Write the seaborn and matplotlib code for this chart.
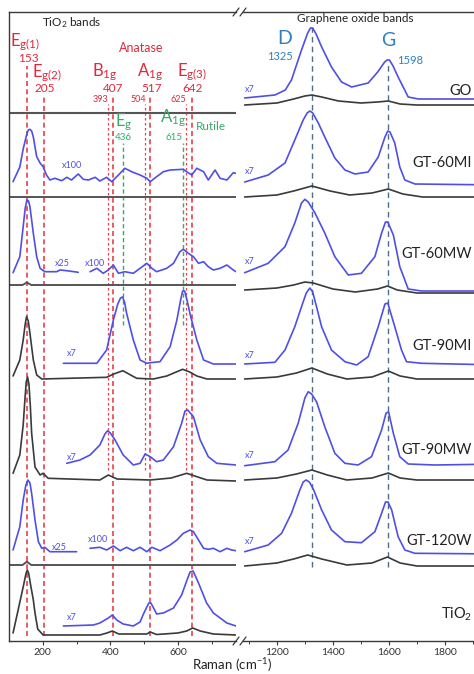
import matplotlib
matplotlib.use("Agg")
import matplotlib.pyplot as plt
from matplotlib.lines import Line2D
import seaborn as sns
import pandas as pd

sns.set_theme(style="ticks")
plt.rcParams["font.family"] = ["Lato", "DejaVu Sans"]
plt.rcParams["mathtext.fontset"] = "custom"
plt.rcParams["mathtext.rm"] = "Lato"
plt.rcParams["mathtext.it"] = "Lato:italic"
plt.rcParams["mathtext.bf"] = "Lato:bold"
plt.rcParams["mathtext.default"] = "regular"

# ---------------- data ----------------
samples = ["GO", "GT-60MI", "GT-60MW", "GT-90MI", "GT-90MW", "GT-120W", "TiO$_2$"]
anatase_bands = [153, 205, 407, 517, 642]
anatase_labels = ["E$_{g(1)}$", "E$_{g(2)}$", "B$_{1g}$", "A$_{1g}$", "E$_{g(3)}$"]
shifted_bands = [393, 504, 625]
rutile_bands = [436, 615]
rutile_labels = ["E$_g$", "A$_{1g}$"]
go_bands = [1325, 1598]
go_labels = ["D", "G"]
left_ticks = [200, 400, 600]
right_ticks = [1200, 1400, 1600, 1800]

# TiO2 window (cm-1, intensity a.u.)
go_t_black_x = [100, 772]
go_t_black_y = [0, 0]

m60i_t_black_x = [100, 772]
m60i_t_black_y = [0, 0]
m60i_t_blue_x = [112, 132, 142, 152, 157, 162, 167, 172, 177, 182, 192, 201, 211, 221, 236, 256, 271, 285, 305, 320,
                 335, 355, 369, 389, 404, 424, 443, 463, 488, 508, 518, 537, 557, 577, 616, 626, 641, 656, 676, 690,
                 710, 725, 745, 764, 772]
m60i_t_blue_y = [15.3, 30, 48, 62, 67, 67.7, 66, 60, 50, 40.3, 34, 30.3, 22, 17, 18.7, 16.3, 19.7, 17, 23, 17.7,
                 17, 19.7, 16, 19.7, 15.3, 22, 28.7, 25.3, 22, 18.7, 15.3, 20.3, 25.3, 27, 27.7, 25.3, 22, 28.7, 25.3, 17,
                 27, 18.7, 17, 24.3, 23.7]

m60w_t_black_x = [100, 140, 153, 166, 772]
m60w_t_black_y = [0, 0, 2.5, 0, 0]
m60w_t_blue25_x = [112, 132, 142, 148, 153, 158, 162, 172, 182, 192, 206, 241, 251, 271, 305]
m60w_t_blue25_y = [12.3, 28.3, 58.3, 77, 85, 84, 78.3, 51.7, 28.3, 16.7, 13.3, 13.3, 15, 14.3, 12.7]
m60w_t_blue100_x = [340, 360, 379, 394, 409, 424, 443, 468, 488, 508, 523, 537, 567, 587, 606, 616, 631, 646, 661, 676,
                    690, 705, 725, 745, 764, 772]
m60w_t_blue100_y = [13.3, 16.7, 11.7, 15, 20, 11.7, 13.3, 11.7, 16.7, 21.7, 16.7, 13.3, 16.7, 21.7, 33.3, 35.7, 31.7,
                    28.3, 21.7, 23.3, 18.3, 15, 16.7, 20, 15, 13.3]

m90i_t_black_x = [112, 132, 142, 148, 152, 157, 162, 172, 182, 197, 389, 410, 437, 460, 478, 527, 567, 595, 614, 635,
                  656, 686, 772]
m90i_t_black_y = [3, 19, 39, 55, 62.3, 58, 45.7, 19, 4, 0, 1.7, 5, 8.3, 4, 0.7, 0, 3, 7, 9.7, 7, 3, 0, 0]
m90i_t_blue_x = [261, 360, 389, 409, 422, 430, 436, 442, 448, 468, 488, 508, 518, 547, 577, 597, 608, 614, 620, 627,
                 636, 656, 676, 705, 772]
m90i_t_blue_y = [15.7, 15.7, 29, 59, 75, 81, 82, 77, 66, 39, 19, 15.7, 16.3, 17.3, 32.3, 59, 79, 88, 88, 79, 65, 39, 19,
                 15, 15]

m90w_t_black_x = [112, 132, 142, 147, 151, 155, 159, 163, 167, 177, 192, 201, 216, 369, 394, 420, 518, 580, 626, 686,
                  772]
m90w_t_black_y = [6.7, 25, 55, 80, 98, 103, 96, 75, 47, 13, 5, 6.7, 1.7, 0, 5, 1, 0, 2, 6.7, 0, -1]
m90w_t_blue_x = [271, 310, 340, 369, 384, 392, 400, 414, 438, 468, 488, 503, 518, 537, 557, 587, 611, 621, 629, 646,
                 666, 690, 715, 772]
m90w_t_blue_y = [16.7, 20, 25, 35, 46, 49.3, 47, 40, 25, 15, 16.7, 26, 23.3, 18.3, 20, 33.3, 56.7, 69, 70, 63.3, 40,
                 23.3, 16.7, 15]

m120_t_black_x = [100, 140, 153, 166, 772]
m120_t_black_y = [0, 0, 3.3, 0, 0]
m120_t_blue25_x = [112, 132, 142, 150, 156, 162, 167, 177, 187, 197, 206, 221, 251, 300]
m120_t_blue25_y = [15, 38.3, 65, 80, 85, 82, 71.7, 45, 23.3, 16.7, 17.7, 13.3, 13.3, 13.3]
m120_t_blue100_x = [340, 369, 389, 409, 429, 448, 468, 488, 508, 523, 547, 577, 597, 616, 636, 646, 661, 676, 690, 705,
                    725, 745, 759, 772]
m120_t_blue100_y = [16.7, 17.7, 15, 19, 14.3, 17.7, 14.3, 17.7, 13.3, 17.7, 14.3, 20, 25, 31.7, 35, 33.3, 25, 16.7,
                    15.7, 16.7, 13.3, 16.7, 15, 14.3]

tio2_t_black_x = [112, 127, 142, 150, 154, 158, 163, 172, 177, 185, 201, 369, 390, 406, 425, 508, 518, 537, 600, 626,
                  644, 666, 705, 772]
tio2_t_black_y = [2, 25, 48, 61, 65, 62, 52, 35, 22, 6, 0, 0, 2, 4, 1, 1, 3, 0.5, 2, 4, 7, 4, 1, 0]
tio2_t_blue_x = [261, 350, 369, 394, 406, 419, 438, 468, 488, 498, 508, 514, 520, 528, 537, 557, 587, 611, 626, 636,
                 645, 661, 685, 705, 745, 772]
tio2_t_blue_y = [9, 10, 12, 17, 20, 15, 11, 9, 13, 21, 28, 32, 32, 27, 21, 22, 27, 40, 54, 63, 64, 52, 32, 22, 12, 9]

# Graphene-oxide window
go_g_black_x = [1085, 1200, 1260, 1300, 1325, 1360, 1420, 1500, 1560, 1598, 1640, 1700, 2000]
go_g_black_y = [0, 2, 6, 9, 10, 8, 4, 2, 3, 4, 1, 0, 0]
go_g_blue_x = [1085, 1193, 1230, 1252, 1288, 1310, 1320, 1328, 1340, 1360, 1395, 1431, 1467, 1526, 1560, 1585, 1594,
               1602, 1615, 1633, 1669, 1705, 2000]
go_g_blue_y = [7, 10, 15, 25, 55, 72, 77, 77, 71, 58, 38, 23, 18, 22, 33, 43, 45, 45, 39, 28, 8, 6, 6]

m60i_g_black_x = [1085, 1200, 1260, 1325, 1390, 1460, 1540, 1598, 1650, 1720, 2000]
m60i_g_black_y = [0, 2, 6, 11, 6, 2, 4, 8, 3, 0, 0]
m60i_g_blue_x = [1085, 1169, 1229, 1264, 1294, 1308, 1318, 1328, 1348, 1371, 1407, 1443, 1479, 1526, 1562, 1586, 1596,
                 1604, 1621, 1639, 1657, 1693, 2000]
m60i_g_blue_y = [15, 22, 34, 57, 77, 84, 86, 84, 74, 60, 39, 27, 23, 25, 40, 60, 66, 65, 54, 30, 17, 13, 12]

m60w_g_black_x = [1085, 1200, 1260, 1300, 1330, 1400, 1480, 1560, 1595, 1630, 1700, 2000]
m60w_g_black_y = [3, 5, 8, 11, 10, 4, 1, 4, 7, 3, 0, 0]
m60w_g_blue_x = [1085, 1169, 1229, 1264, 1288, 1300, 1312, 1336, 1371, 1407, 1455, 1502, 1550, 1574, 1588, 1596, 1616,
                 1639, 1669, 1717, 2000]
m60w_g_blue_y = [20.3, 29.7, 46.3, 70, 90, 93.7, 91, 80, 60, 36.3, 18, 19.7, 36.3, 60, 71, 71, 58, 26.3, 4, 2, 2]

m90i_g_black_x = [1085, 1200, 1270, 1325, 1380, 1450, 1540, 1598, 1640, 1700, 2000]
m90i_g_black_y = [0, 2, 6, 11, 5, 0, 2, 8, 3, 0, 0]
m90i_g_blue_x = [1085, 1193, 1229, 1264, 1288, 1305, 1318, 1328, 1340, 1360, 1395, 1443, 1485, 1526, 1562, 1586, 1596,
                 1621, 1645, 1663, 1717, 2000]
m90i_g_blue_y = [15, 16.7, 29, 52.3, 72.3, 86, 91, 87, 74, 52, 29, 17.3, 14, 22.3, 52.3, 75, 76, 52.3, 29, 17.3, 15.7,
                 14]

m90w_g_black_x = [1085, 1200, 1270, 1325, 1380, 1450, 1540, 1598, 1640, 1700, 2000]
m90w_g_black_y = [0, 2, 6, 10, 5, 0, 2, 7, 2, 0, 0]
m90w_g_blue_x = [1085, 1193, 1240, 1276, 1300, 1312, 1324, 1342, 1371, 1407, 1443, 1490, 1538, 1574, 1590, 1599, 1616,
                 1639, 1669, 1764, 2000]
m90w_g_blue_y = [14.3, 18.3, 30, 56.7, 82, 88.3, 86, 78, 53.3, 26.7, 16.7, 15, 23.3, 50, 67, 68, 46.7, 23.3, 16, 15, 16]

m120_g_black_x = [1085, 1200, 1260, 1310, 1360, 1450, 1540, 1595, 1640, 1700, 2000]
m120_g_black_y = [0, 3, 7, 11, 7, 1, 3, 9, 3, 0, 0]
m120_g_blue_x = [1085, 1169, 1217, 1252, 1282, 1294, 1304, 1316, 1330, 1360, 1395, 1443, 1502, 1550, 1574, 1588, 1597,
                 1610, 1633, 1657, 1693, 2000]
m120_g_blue_y = [14.3, 21, 32.7, 52.7, 76, 84, 86, 84, 77, 56, 36, 24.3, 23.3, 34.3, 52.7, 64, 64, 56, 29.3, 16, 12.7,
                 12]

# ---------------- layout ----------------
W, H = 474, 674
BOT, TOP = 641, 12          # pixel rows of the frame
def fx(px): return px / W
def fy(py): return 1 - py / H
def dy(py): return BOT - py  # pixel row -> data y

BLUE = "#4f4fe8"
DARK = "#3a3a3a"
RED = "#e8404e"
REDT = "#e0283c"
GREEN = "#3aa86c"
DG = "#2f7fc1"
DGL = "#4d6d8a"

left_base = [113, 197, 285, 379, 480, 565, 635]
right_base = [105, 197, 293, 379, 480, 566]

fig = plt.figure(figsize=(W / 100, H / 100), dpi=100)
axL = fig.add_axes([fx(9), fy(BOT), fx(236 - 9), (BOT - TOP) / H])
axR = fig.add_axes([fx(243), fy(BOT), (2000 - 1079) * 0.28 / W, (BOT - TOP) / H])
axL.set_xlim(100, 772)
axR.set_xlim(1079, 2000)
for ax in (axL, axR):
    ax.set_ylim(0, BOT - TOP)
    ax.set_yticks([])
    ax.set_facecolor("none")
    for s in ax.spines.values():
        s.set_color(DARK)
        s.set_linewidth(1.0)
axL.spines["right"].set_visible(False)
axR.spines["left"].set_visible(False)
axR.spines["right"].set_visible(False)

def trace(ax, xs, ys, base, color, lw=1.2):
    df = pd.DataFrame({"x": xs, "y": [dy(base) + v for v in ys]})
    sns.lineplot(data=df, x="x", y="y", ax=ax, color=color, linewidth=lw,
                 estimator=None, sort=False, legend=False)

# left traces
trace(axL, go_t_black_x, go_t_black_y, left_base[0], "#555555", 1.5)
trace(axL, m60i_t_black_x, m60i_t_black_y, left_base[1], "#555555", 1.4)
trace(axL, m60i_t_blue_x, m60i_t_blue_y, left_base[1], BLUE)
trace(axL, m60w_t_black_x, m60w_t_black_y, left_base[2], "#555555", 1.4)
trace(axL, m60w_t_blue25_x, m60w_t_blue25_y, left_base[2], BLUE)
trace(axL, m60w_t_blue100_x, m60w_t_blue100_y, left_base[2], BLUE)
trace(axL, m90i_t_black_x, m90i_t_black_y, left_base[3], DARK)
trace(axL, m90i_t_blue_x, m90i_t_blue_y, left_base[3], BLUE)
trace(axL, m90w_t_black_x, m90w_t_black_y, left_base[4], DARK)
trace(axL, m90w_t_blue_x, m90w_t_blue_y, left_base[4], BLUE)
trace(axL, m120_t_black_x, m120_t_black_y, left_base[5], "#555555", 1.4)
trace(axL, m120_t_blue25_x, m120_t_blue25_y, left_base[5], BLUE)
trace(axL, m120_t_blue100_x, m120_t_blue100_y, left_base[5], BLUE)
trace(axL, tio2_t_black_x, tio2_t_black_y, left_base[6], DARK)
trace(axL, tio2_t_blue_x, tio2_t_blue_y, left_base[6], BLUE)

# right traces
trace(axR, go_g_black_x, go_g_black_y, right_base[0], DARK)
trace(axR, go_g_blue_x, go_g_blue_y, right_base[0], BLUE)
trace(axR, m60i_g_black_x, m60i_g_black_y, right_base[1], DARK)
trace(axR, m60i_g_blue_x, m60i_g_blue_y, right_base[1], BLUE)
trace(axR, m60w_g_black_x, m60w_g_black_y, right_base[2], DARK)
trace(axR, m60w_g_blue_x, m60w_g_blue_y, right_base[2], BLUE)
trace(axR, m90i_g_black_x, m90i_g_black_y, right_base[3], DARK)
trace(axR, m90i_g_blue_x, m90i_g_blue_y, right_base[3], BLUE)
trace(axR, m90w_g_black_x, m90w_g_black_y, right_base[4], DARK)
trace(axR, m90w_g_blue_x, m90w_g_blue_y, right_base[4], BLUE)
trace(axR, m120_g_black_x, m120_g_black_y, right_base[5], DARK)
trace(axR, m120_g_blue_x, m120_g_blue_y, right_base[5], BLUE)

# reference dashed lines
dash = (0, (3, 2))
axL.vlines(anatase_bands[0], dy(636), dy(66), color=RED, lw=1.2, linestyles=dash, zorder=1)
axL.vlines(anatase_bands[1:], dy(636), dy(95), color=RED, lw=1.2, linestyles=dash, zorder=1)
axL.vlines(shifted_bands, dy(470), dy(104), color=RED, lw=0.9, linestyles=(0, (2, 2)), zorder=1)
axL.vlines(rutile_bands, dy(325), dy(143), color=GREEN, lw=1.0, linestyles=dash, zorder=1)
axR.vlines(go_bands[0], dy(567), dy(28), color=DGL, lw=1.0, linestyles=(0, (4, 3)), zorder=1)
axR.vlines(go_bands[1], dy(567), dy(62), color=DGL, lw=1.0, linestyles=(0, (4, 3)), zorder=1)

# ticks
axL.set_xticks(left_ticks)
axL.set_xticks([300, 500, 700], minor=True)
axR.set_xticks(right_ticks)
axR.set_xticks([1100, 1300, 1500, 1700, 1900], minor=True)
for ax in (axL, axR):
    ax.tick_params(axis="x", which="major", length=3, width=0.8, color=DARK, labelsize=7.5,
                   labelcolor="#333333", pad=2, direction="out")
    ax.tick_params(axis="x", which="minor", length=2, width=0.7, color=DARK, direction="out")
    ax.set_xlabel("")
    ax.set_ylabel("")

fig.text(fx(232), fy(665), "Raman (cm$^{-1}$)", ha="center", va="center", fontsize=9.5, color="#222222")

# break marks
for xc in (236, 243):
    for yc in (TOP, BOT):
        fig.add_artist(Line2D([fx(xc - 3), fx(xc + 3)], [fy(yc + 4), fy(yc - 4)],
                              transform=fig.transFigure, color=DARK, lw=0.9))

# band labels
def t(px, py, s, size, color, **kw):
    fig.text(fx(px), fy(py), s, ha=kw.pop("ha", "center"), va="center", fontsize=size, color=color, **kw)

t(72, 23, "TiO$_2$ bands", 8.5, "#222222")
t(355, 19, "Graphene oxide bands", 8.5, "#222222")
label_pos = [(25, 42), (47, 73), (105, 72), (150, 72), (192, 72)]
num_pos = [(28, 58), (45, 88), (113, 88), (152, 88), (193, 88)]
for (lx, ly), (nx, ny), lab, val in zip(label_pos, num_pos, anatase_labels, anatase_bands):
    t(lx, ly, lab, 12, REDT)
    t(nx, ny, str(val), 8.5, REDT)
t(141, 48, "Anatase", 9, REDT)
for px, val in zip([101, 138, 178], shifted_bands):
    t(px, 100, str(val), 6.5, REDT)
for (lx, ly), (nx, ny), lab, val in zip([(124, 122), (173, 118)], [(123, 137), (174, 137)], rutile_labels, rutile_bands):
    t(lx, ly, lab, 12, GREEN)
    t(nx, ny, str(val), 7, GREEN)
t(211, 127, "Rutile", 8.5, GREEN)
for (lx, ly), (nx, ny), lab, val in zip([(285, 39), (388, 40)], [(280, 56), (410, 61)], go_labels, go_bands):
    t(lx, ly, lab, 14, DG)
    t(nx, ny, str(val), 8, DG)

# scale factors
for py in [90, 171, 261, 355, 456, 541]:
    t(250, py, "x7", 6.5, BLUE)
for px, py, s in [(72, 165, "x100"), (62, 263, "x25"), (95, 263, "x100"), (72, 354, "x7"), (72, 457, "x7"),
                  (59, 548, "x25"), (98, 539, "x100"), (72, 618, "x7")]:
    t(px, py, s, 6.5, BLUE)

# sample names, right-aligned just inside the edge
for py, name in zip([91, 163, 254, 346, 450, 541, 614], samples):
    t(472, py, name, 10.5, "#222222", ha="right")

fig.savefig("out.png", dpi=100)
